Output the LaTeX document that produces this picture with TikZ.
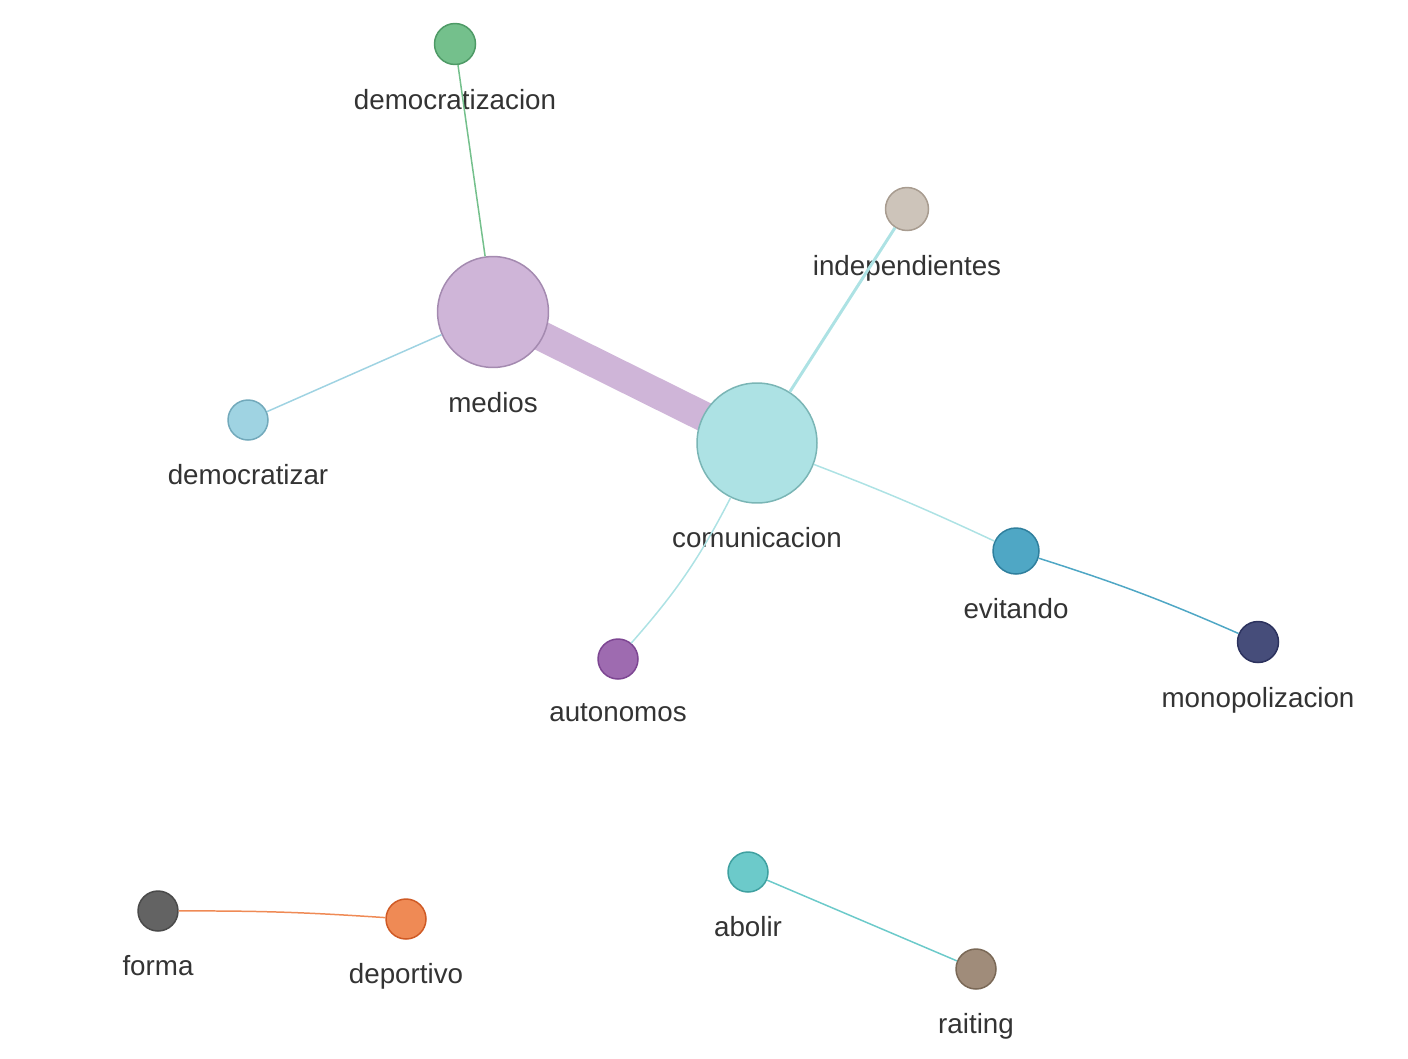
\documentclass[tikz,border=0pt]{standalone}
\usepackage{fontspec}
\setmainfont{Liberation Sans}
\usepackage{tikz}
\usetikzlibrary{positioning}
\pgfdeclarelayer{background}
\pgfsetlayers{background,main}

\definecolor{txt}{HTML}{333333}
\definecolor{verde}{HTML}{74C08C}   \definecolor{verdeB}{HTML}{4E9A66}
\definecolor{lila}{HTML}{CFB5D8}    \definecolor{lilaB}{HTML}{A48AB0}
\definecolor{celeste}{HTML}{9FD3E2} \definecolor{celesteB}{HTML}{72A9BB}
\definecolor{arena}{HTML}{CDC4BA}   \definecolor{arenaB}{HTML}{A89C90}
\definecolor{agua}{HTML}{ADE2E4}    \definecolor{aguaB}{HTML}{7AB5B5}
\definecolor{azul}{HTML}{4FA7C5}    \definecolor{azulB}{HTML}{2F7F9D}
\definecolor{noche}{HTML}{464D7A}   \definecolor{nocheB}{HTML}{2C325E}
\definecolor{morado}{HTML}{9E6BB0}  \definecolor{moradoB}{HTML}{7D4692}
\definecolor{gris}{HTML}{636363}    \definecolor{grisB}{HTML}{4A4A4A}
\definecolor{naranja}{HTML}{EF8A55} \definecolor{naranjaB}{HTML}{CF5A25}
\definecolor{turq}{HTML}{6CCACA}    \definecolor{turqB}{HTML}{3FA0A0}
\definecolor{cafe}{HTML}{A08C7A}    \definecolor{cafeB}{HTML}{7A6856}

\tikzset{
  term/.style={circle, inner sep=0pt, line width=0.85pt},
  word/.style={text=txt, inner sep=0pt, font=\fontsize{15.8}{19}\selectfont},
  link/.style={line width=0.85pt}
}

\begin{document}
\begin{tikzpicture}[x=0.02cm, y=-0.02cm]
\useasboundingbox (0,0) rectangle (1408,1058);
% terminos
\node[term, fill=verde, draw=verdeB, minimum size=0.82cm] (democratizacion) at (455,44) {};
\node[term, fill=lila, draw=lilaB, minimum size=2.22cm] (medios) at (493,312) {};
\node[term, fill=celeste, draw=celesteB, minimum size=0.8cm] (democratizar) at (248,420) {};
\node[term, fill=arena, draw=arenaB, minimum size=0.86cm] (independientes) at (907,209) {};
\node[term, fill=agua, draw=aguaB, minimum size=2.4cm] (comunicacion) at (757,443) {};
\node[term, fill=azul, draw=azulB, minimum size=0.92cm] (evitando) at (1016,551) {};
\node[term, fill=noche, draw=nocheB, minimum size=0.82cm] (monopolizacion) at (1258,642) {};
\node[term, fill=morado, draw=moradoB, minimum size=0.8cm] (autonomos) at (618,659) {};
\node[term, fill=gris, draw=grisB, minimum size=0.8cm] (forma) at (158,911) {};
\node[term, fill=naranja, draw=naranjaB, minimum size=0.8cm] (deportivo) at (406,919) {};
\node[term, fill=turq, draw=turqB, minimum size=0.8cm] (abolir) at (748,872) {};
\node[term, fill=cafe, draw=cafeB, minimum size=0.8cm] (raiting) at (976,969) {};
% etiquetas
\node[word, below=0.47cm of democratizacion] (tDemocratizacion) {democratizacion};
\node[word, below=0.47cm of medios] (tMedios) {medios};
\node[word, below=0.47cm of democratizar] (tDemocratizar) {democratizar};
\node[word, below=0.47cm of independientes] (tIndependientes) {independientes};
\node[word, below=0.47cm of comunicacion] (tComunicacion) {comunicacion};
\node[word, below=0.47cm of evitando] (tEvitando) {evitando};
\node[word, below=0.47cm of monopolizacion] (tMonopolizacion) {monopolizacion};
\node[word, below=0.47cm of autonomos] (tAutonomos) {autonomos};
\node[word, below=0.47cm of forma] (tForma) {forma};
\node[word, below=0.47cm of deportivo] (tDeportivo) {deportivo};
\node[word, below=0.47cm of abolir] (tAbolir) {abolir};
\node[word, below=0.47cm of raiting] (tRaiting) {raiting};
% enlaces
\begin{pgfonlayer}{background}
\draw[lila, line width=0.6cm] (medios.center) -- (comunicacion.center);
\end{pgfonlayer}
\draw[link, verde] (medios) -- (democratizacion);
\draw[link, celeste] (medios) -- (democratizar);
\draw[agua, line width=1.7pt] (comunicacion) -- (independientes);
\draw[link, agua] (comunicacion) to[bend left=2] (evitando);
\draw[link, agua] (comunicacion) to[bend left=7] (autonomos);
\draw[link, azul] (evitando) to[bend left=3] (monopolizacion);
\draw[link, naranja] (forma) to[bend left=2] (deportivo);
\draw[link, turq] (abolir) -- (raiting);
\end{tikzpicture}
\end{document}
